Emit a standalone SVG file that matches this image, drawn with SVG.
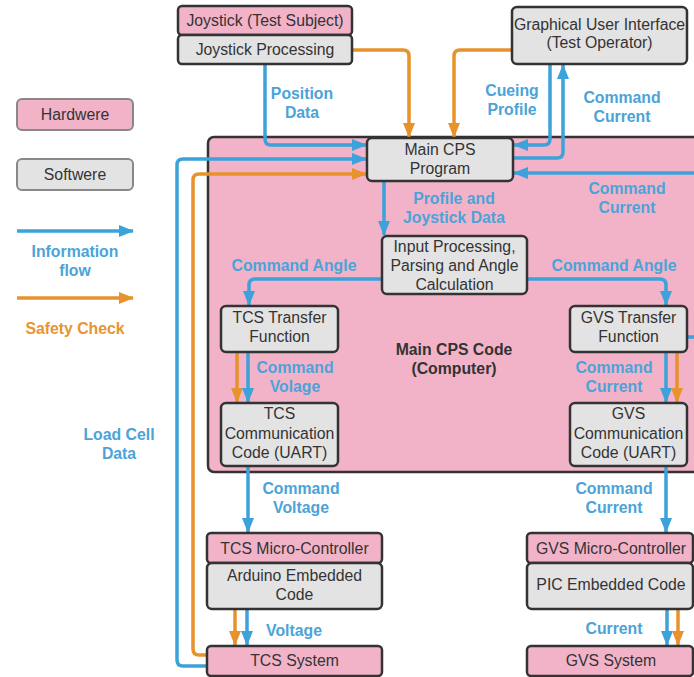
<svg xmlns="http://www.w3.org/2000/svg" width="694" height="677" viewBox="0 0 694 677">
<style>
.hw{fill:#f2b3c9;stroke:#333;stroke-width:2.5}
.sw{fill:#e3e3e3;stroke:#333;stroke-width:2.5}
.lhw{fill:#f2b3c9;stroke:#888;stroke-width:2}
.lsw{fill:#e3e3e3;stroke:#888;stroke-width:2}
.t{font-family:"Liberation Sans",Arial,sans-serif;font-size:15.8px;fill:#333;text-anchor:middle}
.lb{font-family:"Liberation Sans",Arial,sans-serif;font-size:15.8px;font-weight:bold;fill:#4ba3d8;text-anchor:middle}
.lo{font-family:"Liberation Sans",Arial,sans-serif;font-size:15.8px;font-weight:bold;fill:#e8952f;text-anchor:middle}
.ld{font-family:"Liberation Sans",Arial,sans-serif;font-size:15.8px;font-weight:bold;fill:#333;text-anchor:middle}
.b{fill:none;stroke:#3ba2da;stroke-width:3.5;stroke-linejoin:round}
.o{fill:none;stroke:#e8922d;stroke-width:3.5;stroke-linejoin:round}
</style>
<defs>
<marker id="ab" markerUnits="userSpaceOnUse" markerWidth="15" markerHeight="12" refX="14" refY="6" orient="auto"><path d="M0,0 L15,6 L0,12 z" fill="#3ba2da"/></marker>
<marker id="ao" markerUnits="userSpaceOnUse" markerWidth="15" markerHeight="12" refX="14" refY="6" orient="auto"><path d="M0,0 L15,6 L0,12 z" fill="#e8922d"/></marker>
</defs>
<rect width="694" height="677" fill="#fff"/>

<g id="main-cps-code">
<rect x="208" y="137" width="520" height="335" rx="6" class="hw"/>
<text x="454" y="355" class="ld">Main CPS Code</text>
<text x="454" y="374" class="ld">(Computer)</text>
</g>

<g id="legend">
<rect x="17" y="99" width="116" height="31" rx="5" class="lhw"/>
<text x="75" y="120" class="t">Hardwere</text>
<rect x="17" y="159" width="116" height="31" rx="5" class="lsw"/>
<text x="75" y="180" class="t">Softwere</text>
<path d="M17,231 H133" class="b" marker-end="url(#ab)"/>
<text x="75" y="257" class="lb">Information</text>
<text x="75" y="276" class="lb">flow</text>
<path d="M17,298 H133" class="o" marker-end="url(#ao)"/>
<text x="75" y="334" class="lo">Safety Check</text>
</g>

<g id="connectors">
<path d="M265,64 V139 Q265,145 271,145 H366" class="b" marker-end="url(#ab)"/>
<path d="M352,50 H403 Q409,50 409,56 V137" class="o" marker-end="url(#ao)"/>
<path d="M512,50 H460 Q454,50 454,56 V137" class="o" marker-end="url(#ao)"/>
<path d="M550,64 V139 Q550,145 544,145 H514" class="b" marker-end="url(#ab)"/>
<path d="M513,158 H557 Q563,158 563,152 V65" class="b" marker-end="url(#ab)"/>
<path d="M687,337 H710 V173 H514" class="b" marker-end="url(#ab)"/>
<path d="M208,666 H183 Q177,666 177,660 V165 Q177,159 183,159 H366" class="b" marker-end="url(#ab)"/>
<path d="M208,655 H199 Q193,655 193,649 V180 Q193,174 199,174 H366" class="o" marker-end="url(#ao)"/>
<path d="M384,181 V235" class="b" marker-end="url(#ab)"/>
<path d="M382,279 H255 Q249,279 249,285 V305" class="b" marker-end="url(#ab)"/>
<path d="M527,279 H660 Q666,279 666,285 V305" class="b" marker-end="url(#ab)"/>
<path d="M237,352 V402" class="o" marker-end="url(#ao)"/>
<path d="M248,352 V402" class="b" marker-end="url(#ab)"/>
<path d="M666,352 V402" class="b" marker-end="url(#ab)"/>
<path d="M677,352 V402" class="o" marker-end="url(#ao)"/>
<path d="M248,466 V532" class="b" marker-end="url(#ab)"/>
<path d="M666,466 V532" class="b" marker-end="url(#ab)"/>
<path d="M235,609 V645" class="o" marker-end="url(#ao)"/>
<path d="M247,609 V645" class="b" marker-end="url(#ab)"/>
<path d="M667,609 V645" class="b" marker-end="url(#ab)"/>
<path d="M678,609 V645" class="o" marker-end="url(#ao)"/>
</g>

<g id="labels">
<text x="302" y="99" class="lb">Position</text>
<text x="302" y="118" class="lb">Data</text>
<text x="512" y="96" class="lb">Cueing</text>
<text x="512" y="115" class="lb">Profile</text>
<text x="622" y="103" class="lb">Command</text>
<text x="622" y="122" class="lb">Current</text>
<text x="454" y="204" class="lb">Profile and</text>
<text x="454" y="223" class="lb">Joystick Data</text>
<text x="627" y="194" class="lb">Command</text>
<text x="627" y="213" class="lb">Current</text>
<text x="294" y="271" class="lb">Command Angle</text>
<text x="614" y="271" class="lb">Command Angle</text>
<text x="295" y="373" class="lb">Command</text>
<text x="295" y="392" class="lb">Volage</text>
<text x="614" y="373" class="lb">Command</text>
<text x="614" y="392" class="lb">Current</text>
<text x="301" y="494" class="lb">Command</text>
<text x="301" y="513" class="lb">Voltage</text>
<text x="614" y="494" class="lb">Command</text>
<text x="614" y="513" class="lb">Current</text>
<text x="294" y="636" class="lb">Voltage</text>
<text x="614" y="634" class="lb">Current</text>
<text x="119" y="440" class="lb">Load Cell</text>
<text x="119" y="459" class="lb">Data</text>
</g>

<g id="joystick">
<rect x="178" y="6" width="174" height="29" rx="4" class="hw"/>
<text x="265" y="26" class="t">Joystick (Test Subject)</text>
</g>
<g id="joystick-processing">
<rect x="178" y="35" width="174" height="29" rx="4" class="sw"/>
<text x="265" y="55" class="t">Joystick Processing</text>
</g>
<g id="gui">
<rect x="512" y="7" width="175" height="57" rx="5" class="sw"/>
<text x="599.5" y="30" class="t">Graphical User Interface</text>
<text x="599.5" y="48" class="t">(Test Operator)</text>
</g>
<g id="main-cps-program">
<rect x="367" y="138" width="146" height="43" rx="5" class="sw"/>
<text x="440" y="155" class="t">Main CPS</text>
<text x="440" y="174" class="t">Program</text>
</g>
<g id="input-processing">
<rect x="382" y="236" width="145" height="58" rx="5" class="sw"/>
<text x="454.5" y="252" class="t">Input Processing,</text>
<text x="454.5" y="271" class="t">Parsing and Angle</text>
<text x="454.5" y="290" class="t">Calculation</text>
</g>
<g id="tcs-tf">
<rect x="221" y="306" width="117" height="46" rx="5" class="sw"/>
<text x="279.5" y="323" class="t">TCS Transfer</text>
<text x="279.5" y="342" class="t">Function</text>
</g>
<g id="gvs-tf">
<rect x="570" y="306" width="117" height="46" rx="5" class="sw"/>
<text x="628.5" y="323" class="t">GVS Transfer</text>
<text x="628.5" y="342" class="t">Function</text>
</g>
<g id="tcs-comm">
<rect x="221" y="403" width="117" height="63" rx="5" class="sw"/>
<text x="279.5" y="419" class="t">TCS</text>
<text x="279.5" y="439" class="t">Communication</text>
<text x="279.5" y="458" class="t">Code (UART)</text>
</g>
<g id="gvs-comm">
<rect x="570" y="403" width="117" height="63" rx="5" class="sw"/>
<text x="628.5" y="419" class="t">GVS</text>
<text x="628.5" y="439" class="t">Communication</text>
<text x="628.5" y="458" class="t">Code (UART)</text>
</g>
<g id="tcs-mc">
<rect x="207" y="533" width="175" height="30" rx="4" class="hw"/>
<text x="294.5" y="554" class="t">TCS Micro-Controller</text>
</g>
<g id="arduino">
<rect x="207" y="563" width="175" height="46" rx="5" class="sw"/>
<text x="294.5" y="581" class="t">Arduino Embedded</text>
<text x="294.5" y="600" class="t">Code</text>
</g>
<g id="tcs-system">
<rect x="207" y="646" width="175" height="30" rx="4" class="hw"/>
<text x="294.5" y="666" class="t">TCS System</text>
</g>
<g id="gvs-mc">
<rect x="527" y="533" width="166" height="30" rx="4" class="hw"/>
<text x="611" y="554" class="t">GVS Micro-Controller</text>
</g>
<g id="pic">
<rect x="527" y="563" width="166" height="46" rx="5" class="sw"/>
<text x="611" y="590" class="t">PIC Embedded Code</text>
</g>
<g id="gvs-system">
<rect x="527" y="646" width="166" height="30" rx="4" class="hw"/>
<text x="611" y="666" class="t">GVS System</text>
</g>
</svg>
